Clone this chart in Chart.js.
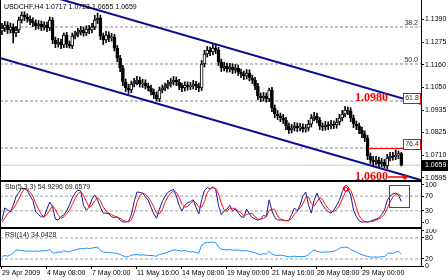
<!DOCTYPE html>
<html><head><meta charset="utf-8">
<script src="https://cdn.jsdelivr.net/npm/chart.js@4.4.0/dist/chart.umd.min.js"></script>
<style>
html,body{margin:0;padding:0;background:#fff;overflow:hidden;}
#wrap{position:relative;width:448px;height:280px;}
canvas{position:absolute;left:0;}
.sep{position:absolute;left:0;width:422px;background:#000;}
</style></head><body>
<div id="wrap">
<canvas id="cMain" width="448" height="180" style="top:0px"></canvas>
<canvas id="cSto" width="448" height="45" style="top:182px"></canvas>
<canvas id="cRsi" width="448" height="51" style="top:229px"></canvas>
<div class="sep" style="top:180px;height:2px"></div>
<div class="sep" style="top:227px;height:2px"></div>
</div>
<script>
const symbol = "USDCHF,H4";
const opens = [1.1330,1.1345,1.1360,1.1335,1.1350,1.1320,1.1335,1.1385,1.1410,1.1400,
1.1390,1.1380,1.1370,1.1355,1.1365,1.1350,1.1360,1.1345,1.1385,1.1285,
1.1265,1.1275,1.1260,1.1310,1.1265,1.1255,1.1305,1.1315,1.1325,1.1335,
1.1320,1.1340,1.1335,1.1350,1.1385,1.1395,1.1305,1.1285,1.1310,1.1295,
1.1300,1.1245,1.1195,1.1145,1.1075,1.1045,1.1035,1.1065,1.1075,1.1085,
1.1065,1.1070,1.1055,1.1045,1.1025,1.1010,1.0990,1.1035,1.1045,1.1055,
1.1065,1.1075,1.1085,1.1075,1.1055,1.1045,1.1060,1.1050,1.1055,1.1065,
1.1055,1.1045,1.1165,1.1215,1.1235,1.1225,1.1245,1.1235,1.1175,1.1145,
1.1155,1.1140,1.1150,1.1135,1.1145,1.1125,1.1115,1.1105,1.1120,1.1095,
1.1085,1.1055,1.1005,1.0995,1.1005,1.0990,1.1035,1.0945,1.0915,1.0905,
1.0895,1.0885,1.0855,1.0835,1.0845,1.0855,1.0845,1.0850,1.0840,1.0845,
1.0865,1.0895,1.0905,1.0885,1.0855,1.0850,1.0860,1.0855,1.0865,1.0860,
1.0875,1.0895,1.0915,1.0935,1.0930,1.0895,1.0865,1.0855,1.0835,1.0815,
1.0795,1.0705,1.0685,1.0675,1.0685,1.0665,1.0675,1.0655,1.0695,1.0705,
1.0700,1.0710,1.0717];
const highs = [1.1368,1.1378,1.1376,1.1370,1.1366,1.1353,1.1400,1.1425,1.1426,1.1416,
1.1406,1.1396,1.1386,1.1383,1.1380,1.1376,1.1374,1.1400,1.1398,1.1300,
1.1293,1.1290,1.1320,1.1323,1.1280,1.1320,1.1330,1.1343,1.1353,1.1350,
1.1356,1.1358,1.1368,1.1408,1.1420,1.1408,1.1320,1.1328,1.1326,1.1318,
1.1313,1.1258,1.1208,1.1158,1.1090,1.1063,1.1080,1.1093,1.1103,1.1100,
1.1088,1.1086,1.1070,1.1060,1.1040,1.1026,1.1050,1.1060,1.1070,1.1083,
1.1093,1.1103,1.1100,1.1088,1.1070,1.1076,1.1076,1.1073,1.1083,1.1078,
1.1070,1.1183,1.1233,1.1253,1.1250,1.1265,1.1260,1.1248,1.1190,1.1173,
1.1170,1.1168,1.1166,1.1163,1.1160,1.1140,1.1130,1.1138,1.1136,1.1110,
1.1098,1.1068,1.1020,1.1023,1.1020,1.1045,1.1048,1.0960,1.0933,1.0920,
1.0913,1.0898,1.0870,1.0863,1.0873,1.0870,1.0868,1.0866,1.0863,1.0883,
1.0913,1.0923,1.0920,1.0898,1.0870,1.0878,1.0876,1.0883,1.0880,1.0893,
1.0913,1.0933,1.0953,1.0950,1.0946,1.0910,1.0880,1.0870,1.0850,1.0830,
1.0808,1.0720,1.0703,1.0703,1.0700,1.0693,1.0688,1.0713,1.0723,1.0723,
1.0735,1.0730,1.0723];
const lows = [1.1312,1.1327,1.1317,1.1320,1.1270,1.1302,1.1322,1.1370,1.1382,1.1374,
1.1362,1.1352,1.1337,1.1340,1.1332,1.1334,1.1327,1.1332,1.1267,1.1247,
1.1250,1.1242,1.1247,1.1247,1.1245,1.1242,1.1290,1.1300,1.1310,1.1304,
1.1307,1.1317,1.1320,1.1337,1.1367,1.1287,1.1262,1.1272,1.1277,1.1280,
1.1230,1.1177,1.1127,1.1057,1.1027,1.1017,1.1022,1.1050,1.1060,1.1050,
1.1047,1.1040,1.1030,1.1010,1.0992,1.0980,1.0977,1.1020,1.1030,1.1040,
1.1050,1.1060,1.1057,1.1037,1.1027,1.1030,1.1034,1.1037,1.1040,1.1037,
1.1027,1.1032,1.1150,1.1200,1.1207,1.1210,1.1217,1.1157,1.1127,1.1130,
1.1124,1.1125,1.1117,1.1120,1.1107,1.1097,1.1087,1.1090,1.1080,1.1067,
1.1037,1.0987,1.0977,1.0980,1.0974,1.0977,1.0927,1.0897,1.0887,1.0877,
1.0867,1.0837,1.0817,1.0820,1.0830,1.0827,1.0830,1.0824,1.0824,1.0830,
1.0850,1.0880,1.0870,1.0837,1.0832,1.0834,1.0837,1.0840,1.0842,1.0844,
1.0860,1.0880,1.0900,1.0912,1.0877,1.0847,1.0837,1.0817,1.0797,1.0777,
1.0687,1.0667,1.0657,1.0660,1.0647,1.0650,1.0645,1.0642,1.0680,1.0684,
1.0687,1.0692,1.0655];
const closes = [1.1345,1.1360,1.1335,1.1350,1.1320,1.1335,1.1385,1.1410,1.1400,1.1390,
1.1380,1.1370,1.1355,1.1365,1.1350,1.1360,1.1345,1.1385,1.1285,1.1265,
1.1275,1.1260,1.1310,1.1265,1.1255,1.1305,1.1315,1.1325,1.1335,1.1320,
1.1340,1.1335,1.1350,1.1385,1.1395,1.1305,1.1285,1.1310,1.1295,1.1300,
1.1245,1.1195,1.1145,1.1075,1.1045,1.1035,1.1065,1.1075,1.1085,1.1065,
1.1070,1.1055,1.1045,1.1025,1.1010,1.0990,1.1035,1.1045,1.1055,1.1065,
1.1075,1.1085,1.1075,1.1055,1.1045,1.1060,1.1050,1.1055,1.1065,1.1055,
1.1045,1.1165,1.1215,1.1235,1.1225,1.1245,1.1235,1.1175,1.1145,1.1155,
1.1140,1.1150,1.1135,1.1145,1.1125,1.1115,1.1105,1.1120,1.1095,1.1085,
1.1055,1.1005,1.0995,1.1005,1.0990,1.1035,1.0945,1.0915,1.0905,1.0895,
1.0885,1.0855,1.0835,1.0845,1.0855,1.0845,1.0850,1.0840,1.0845,1.0865,
1.0895,1.0905,1.0885,1.0855,1.0850,1.0860,1.0855,1.0865,1.0860,1.0875,
1.0895,1.0915,1.0935,1.0930,1.0895,1.0865,1.0855,1.0835,1.0815,1.0795,
1.0705,1.0685,1.0675,1.0685,1.0665,1.0675,1.0655,1.0695,1.0705,1.0700,
1.0710,1.0717,1.0659];
const stochK = [5,38,33,27,45,68,80,92,90,86,70,58,27,20,14,14,35,54,41,8,
5,15,19,30,46,65,78,86,84,45,32,40,62,73,60,40,24,24,22,14,
12,14,5,0,0,2,19,55,81,80,78,68,59,40,22,10,35,55,70,80,
85,88,70,45,30,45,52,55,60,40,22,60,85,93,90,95,88,45,20,30,
35,45,30,35,25,15,12,35,22,12,8,5,8,18,15,60,30,12,6,5,
5,3,4,20,38,30,46,70,81,46,24,59,78,60,46,35,28,24,32,45,
59,82,95,90,73,32,15,3,0,0,0,2,5,8,11,20,32,59,70,76,
78,73,54.9296];
const stochD = [0,10,22,30,36,48,62,78,90,88,80,70,50,35,20,14,20,32,44,34,
18,10,14,22,32,47,63,76,82,72,55,40,45,58,65,58,41,30,24,20,
16,13,10,5,2,0,5,25,52,72,78,75,68,55,40,24,22,33,53,68,
78,84,80,67,48,40,42,50,56,52,40,40,56,79,89,93,91,76,51,32,
28,37,37,37,30,25,17,20,23,23,14,8,7,10,14,31,35,34,16,8,
5,4,4,9,21,29,38,49,66,68,50,43,54,66,61,47,36,29,28,34,
45,62,79,89,86,65,40,17,6,1,0,1,2,5,8,13,21,37,54,68,
75,76,69.6579];
const rsi = [27,30,28,32,36,46,45,44,43,42,43,42,43,42,43,44,43,48,37,38,
40,39,44,41,40,44,46,48,50,49,51,50,51,53,54,44,40,39,38,38,
37,36,33,29,26,27,31,32,33,31,32,31,30,30,29,28,33,35,37,40,
43,46,45,44,42,45,42,40,41,38,37,60,65,68,67,69,66,54,48,47,
46,47,45,46,45,44,43,44,42,40,38,34,33,35,34,42,34,31,30,31,
30,28,26,27,28,27,27,27,28,32,40,46,42,40,39,40,40,41,42,45,
51,53,54,53,47,44,40,35,32,30,27,26,25,26,25,27,26,35,37,36,
40,42,34.0428];
const xTickIndex = [0,16,32,48,64,80,96,112,128];
const xTickLabels = ["29 Apr 2009","4 May 08:00","7 May 00:00","11 May 16:00","14 May 08:00","19 May 00:00","21 May 16:00","26 May 08:00","29 May 00:00"];
const priceTicks = [1.1390,1.1275,1.1160,1.1050,1.0935,1.0825,1.0710,1.0595];
const fibLevels = [1.1350,1.1165,1.0980,1.0745];
const fibLabels = ["38.2","50.0","61.8","76.4"];
const trendUpper = [[15,1.15125],[149,1.0966]];
const trendLower = [[-0.7,1.1195],[149,1.05845]];
const stochTicks = [0,30,70,100];
const stochLevels = [30,70];
const rsiTicks = [0,20,80,100];
const rsiLevels = [20,80];
const markTarget = 1.0980;
const markSupport = 1.0600;

const X_MIN = -0.7, X_MAX = 149;
const FONT = 'Liberation Sans';
Chart.defaults.font.family = FONT;
Chart.defaults.font.size = 7;
Chart.defaults.color = '#000';
const idx = closes.map((_, i) => i);
const last = closes.length - 1;

function xScale(show) {
  return {
    type: 'linear', min: X_MIN, max: X_MAX, offset: false, display: show,
    afterBuildTicks: s => { s.ticks = xTickIndex.map(v => ({value: v})); },
    afterFit: s => { s.height = show ? 14 : 0; s.paddingLeft = 0; s.paddingRight = 0; },
    ticks: {autoSkip: false, maxRotation: 0, minRotation: 0, align: 'start', padding: 0,
      callback: v => xTickLabels[xTickIndex.indexOf(v)] || ''},
    grid: {drawOnChartArea: false, tickLength: 3, color: '#000'},
    border: {display: true, color: '#000'}
  };
}
function yScale(min, max, ticks, fmt) {
  return {
    type: 'linear', position: 'right', min, max,
    afterBuildTicks: s => { s.ticks = ticks.map(v => ({value: v})); },
    afterFit: s => { s.width = 27; s.paddingTop = 0; s.paddingBottom = 0; },
    ticks: {autoSkip: false, callback: fmt, padding: 1, color: '#000'},
    grid: {drawOnChartArea: false, tickLength: 3, color: '#000'},
    border: {display: true, color: '#000'}
  };
}
const baseOpts = {responsive: false, animation: false, events: [],
  layout: {padding: 0}, plugins: {legend: {display: false}, tooltip: {enabled: false}}};
function hline(v, color, dash) {
  return {type: 'line', data: [{x: X_MIN, y: v}, {x: X_MAX, y: v}], borderColor: color,
    borderWidth: 1, borderDash: dash || [], pointRadius: 0, order: 8};
}

// ---------- main price chart ----------
const mainAnno = {id: 'mainAnno', afterDraw(chart) {
  const {ctx, chartArea: a, scales: {x, y}} = chart;
  ctx.save();
  ctx.fillStyle = '#000'; ctx.fillRect(0, 0, 1, a.bottom);
  ctx.font = '7px "Liberation Sans"'; ctx.textBaseline = 'middle'; ctx.textAlign = 'left';
  ctx.fillText(symbol + ' ' + [opens[last], highs[last], lows[last], closes[last]].map(v => v.toFixed(4)).join(' '), 4, 7);
  fibLabels.forEach((lab, k) => {
    const py = Math.round(y.getPixelForValue(fibLevels[k]));
    if (k >= 2) {
      const top = k === 2 ? py - 8 : py - 9, h = 10;
      ctx.fillStyle = '#fff'; ctx.fillRect(a.right - 17, top, 16, h);
      ctx.strokeStyle = '#f00'; ctx.lineWidth = 1; ctx.strokeRect(a.right - 17.5, top + 0.5, 17, h);
      ctx.fillStyle = '#333'; ctx.textAlign = 'center'; ctx.textBaseline = 'middle';
      ctx.fillText(lab, a.right - 9, top + h / 2 + 0.5);
    } else {
      ctx.fillStyle = '#333'; ctx.textAlign = 'right'; ctx.textBaseline = 'bottom';
      ctx.fillText(lab, a.right - 3, py);
    }
  });
  const p764 = Math.round(y.getPixelForValue(fibLevels[3])) + 0.5;
  ctx.strokeStyle = '#f00'; ctx.lineWidth = 1;
  ctx.beginPath(); ctx.moveTo(x.getPixelForValue(130.2), p764); ctx.lineTo(a.right - 17, p764); ctx.stroke();
  ctx.fillStyle = '#f00'; ctx.font = 'bold 12px "Liberation Serif"';
  ctx.textAlign = 'left'; ctx.textBaseline = 'alphabetic';
  ctx.fillText(markTarget.toFixed(4), x.getPixelForValue(125.5), y.getPixelForValue(markTarget));
  ctx.fillText(markSupport.toFixed(4), x.getPixelForValue(125.5), y.getPixelForValue(markSupport) + 2.5);
  const ay = y.getPixelForValue(markSupport), ax0 = x.getPixelForValue(137.3), ax1 = x.getPixelForValue(143.3);
  ctx.strokeStyle = '#f00'; ctx.lineWidth = 1.5;
  ctx.beginPath(); ctx.moveTo(ax0, ay); ctx.lineTo(ax1, ay); ctx.stroke();
  ctx.beginPath(); ctx.moveTo(ax1 - 3, ay); ctx.lineTo(ax1, ay - 3); ctx.lineTo(ax1 + 3, ay); ctx.lineTo(ax1, ay + 3); ctx.closePath(); ctx.fill();
  const pc = Math.round(y.getPixelForValue(closes[last]));
  ctx.fillStyle = '#000'; ctx.fillRect(a.right + 1, pc - 5, 26, 11);
  ctx.fillStyle = '#fff'; ctx.font = '7px "Liberation Sans"'; ctx.textBaseline = 'middle'; ctx.textAlign = 'left';
  ctx.fillText(closes[last].toFixed(4), a.right + 4, pc + 0.5);
  ctx.restore();
}};

new Chart(document.getElementById('cMain'), {
  type: 'bar',
  data: {datasets: [
    {type: 'bar', data: idx.map(i => ({x: i, y: [lows[i], highs[i]]})), backgroundColor: '#000',
      barThickness: 1, grouped: false, order: 4},
    {type: 'bar', data: idx.map(i => ({x: i, y: [opens[i], closes[i]]})),
      backgroundColor: idx.map(i => closes[i] >= opens[i] ? '#fff' : '#000'),
      borderColor: '#000', borderWidth: 1, borderSkipped: false, barThickness: 3, grouped: false,
      minBarLength: 1, order: 3},
    ...fibLevels.map(v => hline(v, '#8a8a8a', [3, 2])),
    hline(closes[last], '#c8c8c8'),
    {type: 'line', data: trendUpper.map(p => ({x: p[0], y: p[1]})), borderColor: '#0c0c94',
      borderWidth: 2, pointRadius: 0, order: 1},
    {type: 'line', data: trendLower.map(p => ({x: p[0], y: p[1]})), borderColor: '#0c0c94',
      borderWidth: 2, pointRadius: 0, order: 1}
  ]},
  options: {...baseOpts, scales: {x: xScale(false), y: yScale(1.0585, 1.1485, priceTicks, v => v.toFixed(4))}},
  plugins: [mainAnno]
});

// ---------- stochastic ----------
const stoAnno = {id: 'stoAnno', afterDraw(chart) {
  const {ctx, chartArea: a, scales: {x, y}} = chart;
  ctx.save();
  ctx.fillStyle = '#000'; ctx.fillRect(0, 0, 1, a.bottom);
  ctx.font = '7px "Liberation Sans"'; ctx.textBaseline = 'middle'; ctx.textAlign = 'left'; ctx.fillStyle = '#222';
  ctx.fillText('Sto(5,3,3) ' + stochK[last].toFixed(4) + ' ' + stochD[last].toFixed(4), 5, 5.5);
  ctx.strokeStyle = '#f00'; ctx.lineWidth = 1;
  const bx0 = Math.round(x.getPixelForValue(137.6)) + 0.5, bx1 = Math.round(x.getPixelForValue(144.7)) + 0.5;
  const by0 = Math.round(y.getPixelForValue(100)) + 0.5, by1 = Math.round(y.getPixelForValue(40)) + 0.5;
  ctx.strokeRect(bx0, by0, bx1 - bx0, by1 - by0);
  const gx = x.getPixelForValue(122.3), gy = 3;
  ctx.beginPath(); ctx.moveTo(gx, gy); ctx.lineTo(gx + 3.5, gy + 3.5); ctx.lineTo(gx + 1.5, gy + 3.5);
  ctx.lineTo(gx + 1.5, gy + 6); ctx.lineTo(gx - 1.5, gy + 6); ctx.lineTo(gx - 1.5, gy + 3.5); ctx.lineTo(gx - 3.5, gy + 3.5);
  ctx.closePath(); ctx.stroke();
  ctx.restore();
}};
new Chart(document.getElementById('cSto'), {
  type: 'line',
  data: {datasets: [
    ...stochLevels.map(v => hline(v, '#a0a0a0', [3, 2])),
    {data: idx.map(i => ({x: i, y: stochK[i]})), borderColor: '#1a1a9a', borderWidth: 1, pointRadius: 0, order: 2},
    {data: idx.map(i => ({x: i, y: stochD[i]})), borderColor: '#ff1010', borderWidth: 1, pointRadius: 0, order: 1}
  ]},
  options: {...baseOpts, scales: {x: xScale(false), y: yScale(-13.5, 108.1, stochTicks, v => String(v))}},
  plugins: [stoAnno]
});

// ---------- RSI ----------
const rsiAnno = {id: 'rsiAnno', afterDraw(chart) {
  const {ctx, chartArea: a} = chart;
  ctx.save();
  ctx.fillStyle = '#000'; ctx.fillRect(0, 0, 1, a.bottom);
  ctx.font = '7px "Liberation Sans"'; ctx.textBaseline = 'middle'; ctx.textAlign = 'left'; ctx.fillStyle = '#222';
  ctx.fillText('RSI(14) ' + rsi[last].toFixed(4), 5, 6);
  ctx.restore();
}};
new Chart(document.getElementById('cRsi'), {
  type: 'line',
  data: {datasets: [
    ...rsiLevels.map(v => hline(v, '#a0a0a0', [3, 2])),
    {data: idx.map(i => ({x: i, y: rsi[i]})), borderColor: '#1e90ff', borderWidth: 1, pointRadius: 0, order: 1}
  ]},
  options: {...baseOpts, scales: {x: xScale(true), y: yScale(0, 105.7, rsiTicks, v => String(v))}},
  plugins: [rsiAnno]
});
</script>
</body></html>
